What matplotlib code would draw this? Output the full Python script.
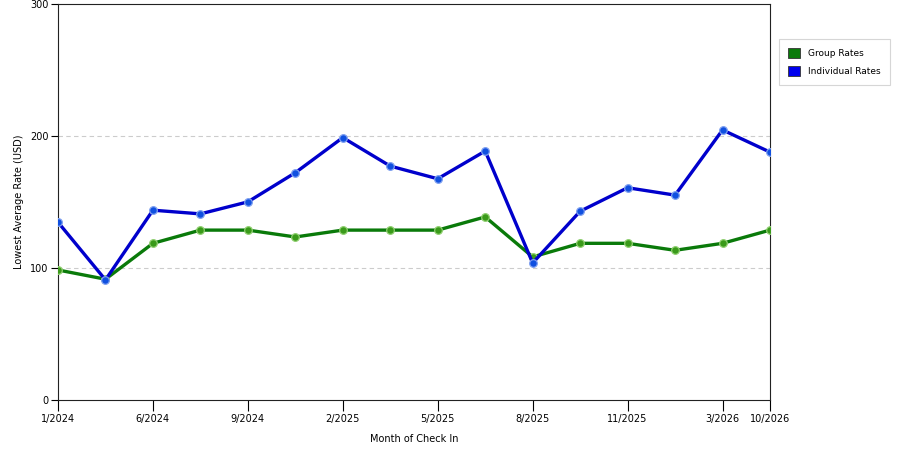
import matplotlib
matplotlib.use("Agg")
import matplotlib.pyplot as plt
from matplotlib.patches import Patch

months = ["1/2024", "", "6/2024", "", "9/2024", "", "2/2025", "", "5/2025", "",
          "8/2025", "", "11/2025", "", "3/2026", "10/2026"]
group_rates = [98.5, 91.5, 118.7, 128.7, 128.7, 123.5, 128.7, 128.7, 128.7, 138.7,
               108.4, 118.7, 118.7, 113.4, 118.7, 128.7]
individual_rates = [134.7, 91.0, 143.8, 141.0, 150.1, 172.2, 198.8, 177.2, 167.6, 188.6,
                    103.8, 143.0, 160.8, 155.2, 204.6, 187.8]
y_ticks = [0, 100, 200, 300]

plt.rcParams['font.family'] = ['DejaVu Sans']
fig = plt.figure(figsize=(9, 4.5), dpi=100)
ax = fig.add_axes([58/900, 1-400/450, (770-58)/900, (400-4)/450])

x = list(range(len(months)))
for yv in [100, 200]:
    ax.axhline(yv, color='#cccccc', lw=0.8, ls=(0, (4, 3)), zorder=0)

ax.plot(x, group_rates, color='#0a7a0a', lw=2.4, zorder=2)
ax.plot(x, group_rates, ls='none', marker='o', ms=5.5, mfc='#3a9a1a', mec='#8fcf6f', mew=0.9, zorder=3)
ax.plot(x, individual_rates, color='#0000cc', lw=2.4, zorder=4)
ax.plot(x, individual_rates, ls='none', marker='o', ms=5.5, mfc='#1050e0', mec='#7fa0f0', mew=0.9, zorder=5)

ax.set_xlim(0, len(months)-1)
ax.set_ylim(0, 300)
tick_pos = [i for i, m in enumerate(months) if m]
ax.set_xticks(tick_pos)
ax.set_xticklabels([months[i] for i in tick_pos], fontsize=7)
ax.set_yticks(y_ticks)
ax.set_yticklabels([str(v) for v in y_ticks], fontsize=7)
ax.tick_params(axis='x', length=8, width=0.8, pad=2)
ax.tick_params(axis='y', length=5, width=0.8, pad=2)
for s in ax.spines.values():
    s.set_color('#222222')
    s.set_linewidth(0.8)

ax.set_xlabel("Month of Check In", fontsize=7, labelpad=7)
ax.set_ylabel("Lowest Average Rate (USD)", fontsize=7, labelpad=4)

handles = [Patch(facecolor='#0a7a0a', edgecolor='#333333', lw=0.6, label='Group Rates'),
           Patch(facecolor='#0000ee', edgecolor='#333333', lw=0.6, label='Individual Rates')]
leg = fig.legend(handles=handles, loc='upper left', bbox_to_anchor=(779/900, 1-39/450),
                 borderaxespad=0, fontsize=6.5, frameon=True, fancybox=False, edgecolor='#cccccc',
                 handlelength=1.3, handleheight=1.3, borderpad=1.0, labelspacing=0.9,
                 handletextpad=0.9)
leg.get_frame().set_linewidth(0.8)

fig.savefig("out.png", dpi=100)
